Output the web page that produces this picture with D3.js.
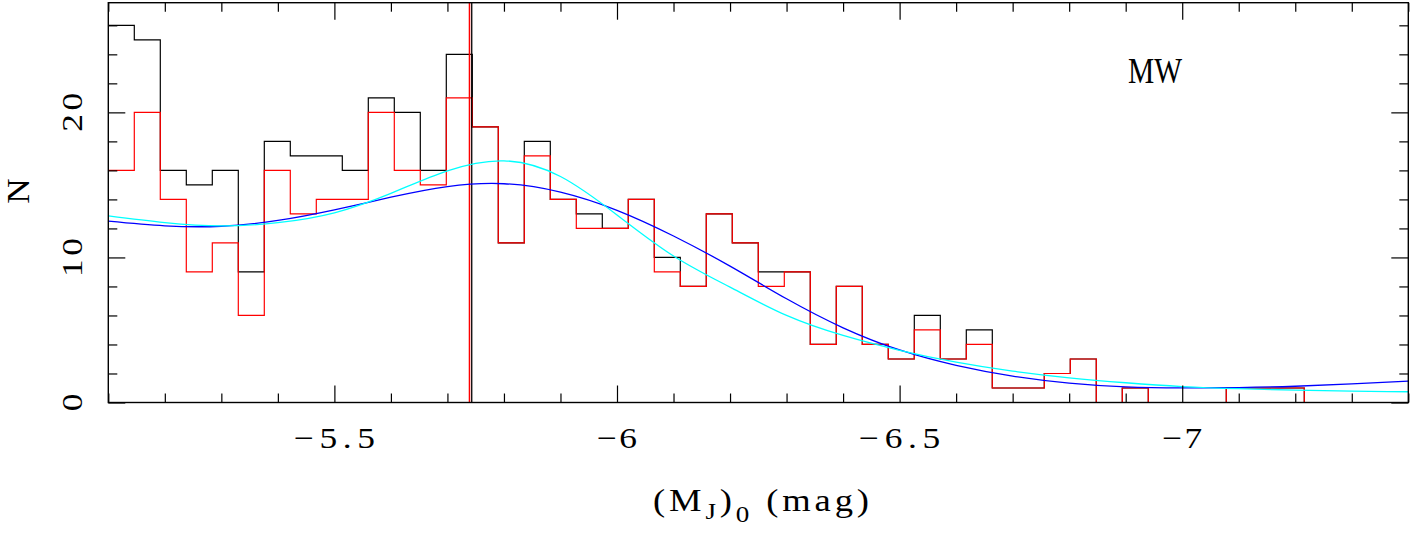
<!DOCTYPE html>
<html>
<head>
<meta charset="utf-8">
<script src="https://cdn.jsdelivr.net/npm/d3@7"></script>
<style>
  html, body { margin: 0; padding: 0; background: #fff; }
  svg { display: block; }
  text { font-family: "Liberation Serif", "DejaVu Serif", serif; fill: #000; }
</style>
</head>
<body>
<svg id="chart" width="1411" height="536"></svg>
<script>
// ---------------- data ----------------
const binStart = -5.1;
const binWidth = 0.046;
const countsAll = [26,25,16,15,16,9,18,17,17,16,21,20,16,24,19,11,18,14,13,12,14,10,8,13,11,9,9,4,8,4,3,6,3,5,1,1,2,3,0,1,0,0,0,1,1,1,0,0,0,0];
const countsSel = [16,20,14,9,11,6,16,13,14,14,20,16,15,21,19,11,17,14,12,12,14,9,8,13,11,8,9,4,8,4,3,5,3,4,1,1,2,3,0,1,0,0,0,1,1,1,0,0,0,0];
const fitMag  = [-5.10,-5.20,-5.30,-5.40,-5.50,-5.60,-5.70,-5.80,-5.90,-6.00,-6.10,-6.20,-6.30,-6.40,-6.50,-6.60,-6.70,-6.80,-6.90,-7.00,-7.10,-7.20,-7.30,-7.40];
const fitBlue = [12.50,12.18,12.15,12.55,13.28,14.15,14.88,15.08,14.50,13.25,11.48,9.40,7.15,5.15,3.62,2.56,1.82,1.34,1.08,1.01,1.03,1.12,1.28,1.48];
const fitCyan = [12.86,12.40,12.17,12.40,13.08,14.42,15.97,16.66,15.58,12.93,10.10,7.95,6.00,4.62,3.60,2.78,2.16,1.70,1.36,1.10,0.95,0.85,0.78,0.74];
const medianAll = -5.743;
const medianSel = -5.739;
const xMajorTicks = [-5.5, -6, -6.5, -7];
const xTickLabels = ["\u22125.5", "\u22126", "\u22126.5", "\u22127"];
const yMajorTicks = [0, 10, 20];
const yTickLabels = ["0", "10", "20"];
const panelLabel = "MW";

// ---------------- layout ----------------
const L = 108.3, R = 1408.3, T = 2.7, B = 402.5;
const x = d3.scaleLinear().domain([-5.1, -7.4]).range([L, R]);
const y = d3.scaleLinear().domain([0, 27.56]).range([B, T]);
const svg = d3.select("#chart");

const edges = d3.range(51).map(i => binStart - i * binWidth);

function histPoints(counts) {
  const pts = counts.map((c, i) => [edges[i], c]);
  pts.push([edges[50], counts[counts.length - 1]]);
  return pts;
}
const stepLine = d3.line().x(d => x(d[0])).y(d => y(d[1])).curve(d3.curveStepAfter);
const smoothLine = d3.line().x(d => x(d[0])).y(d => y(d[1])).curve(d3.curveNatural);

const plot = svg.append("g");
plot.append("defs").append("clipPath").attr("id", "clip")
  .append("rect").attr("x", L).attr("y", T).attr("width", R - L).attr("height", B - T);
const g = plot.append("g").attr("clip-path", "url(#clip)");

g.append("path").attr("d", stepLine(histPoints(countsAll)))
  .attr("fill", "none").attr("stroke", "#000").attr("stroke-width", 1.2);
g.append("path").attr("d", stepLine(histPoints(countsSel)))
  .attr("fill", "none").attr("stroke", "#ff0000").attr("stroke-width", 1.2);

g.append("line").attr("x1", x(medianAll)).attr("x2", x(medianAll)).attr("y1", T).attr("y2", B)
  .attr("stroke", "#000").attr("stroke-width", 1.3);
g.append("line").attr("x1", x(medianSel)).attr("x2", x(medianSel)).attr("y1", T).attr("y2", B)
  .attr("stroke", "#ff0000").attr("stroke-width", 1.5);

g.append("path").attr("d", smoothLine(fitMag.map((m, i) => [m, fitBlue[i]])))
  .attr("fill", "none").attr("stroke", "#0000ff").attr("stroke-width", 1.3);
g.append("path").attr("d", smoothLine(fitMag.map((m, i) => [m, fitCyan[i]])))
  .attr("fill", "none").attr("stroke", "#00ffff").attr("stroke-width", 1.3);

// ---------------- axes / frame ----------------
const xMinor = d3.range(-5.1, -7.41, -0.1).map(v => +v.toFixed(2)).filter(v => xMajorTicks.indexOf(v) < 0);
const yMinor = d3.range(0, 27.6, 2).filter(v => yMajorTicks.indexOf(v) < 0);

function addAxis(axisFn, scale, values, size, transform) {
  const a = svg.append("g").attr("transform", transform)
    .call(axisFn(scale).tickValues(values).tickSize(-size).tickFormat(""));
  a.select(".domain").remove();
  a.selectAll("line").attr("stroke", "#000").attr("stroke-width", 1.2);
}
addAxis(d3.axisBottom, x, xMajorTicks, 17, `translate(0,${B})`);
addAxis(d3.axisBottom, x, xMinor, 9, `translate(0,${B})`);
addAxis(d3.axisTop, x, xMajorTicks, 17, `translate(0,${T})`);
addAxis(d3.axisTop, x, xMinor, 9, `translate(0,${T})`);
addAxis(d3.axisLeft, y, yMajorTicks, 17, `translate(${L},0)`);
addAxis(d3.axisLeft, y, yMinor, 9, `translate(${L},0)`);
addAxis(d3.axisRight, y, yMajorTicks, 17, `translate(${R},0)`);
addAxis(d3.axisRight, y, yMinor, 9, `translate(${R},0)`);

svg.append("rect").attr("x", L).attr("y", T).attr("width", R - L).attr("height", B - T)
  .attr("fill", "none").attr("stroke", "#000").attr("stroke-width", 1.4);

// tick labels: slightly widened glyphs plus spacing (Hershey-like look)
const sx = 1.18;
svg.append("g").selectAll("text").data(xMajorTicks).join("text")
  .attr("transform", d => `translate(${x(d)},448) scale(${sx},1)`)
  .attr("text-anchor", "middle").attr("font-size", 30)
  .attr("textLength", (d, i) => (xTickLabels[i].length * 20.5 - 1) / sx)
  .attr("lengthAdjust", "spacing")
  .text((d, i) => xTickLabels[i]);

svg.append("g").selectAll("text").data(yMajorTicks).join("text")
  .attr("transform", d => `translate(82,${y(d)}) rotate(-90) scale(${sx},1)`)
  .attr("text-anchor", "middle").attr("font-size", 30)
  .attr("textLength", (d, i) => yTickLabels[i].length * 19.5 / sx)
  .attr("lengthAdjust", "spacing")
  .text((d, i) => yTickLabels[i]);

// axis titles
svg.append("text").attr("transform", "translate(29,191) rotate(-90) scale(1.1,1)")
  .attr("text-anchor", "middle").attr("font-size", 32).text("N");

const xt = svg.append("text").attr("transform", `translate(761,511) scale(${sx},1)`)
  .attr("text-anchor", "middle").attr("font-size", 31)
  .attr("textLength", 216 / sx).attr("lengthAdjust", "spacing");
xt.append("tspan").text("(M");
xt.append("tspan").attr("font-size", 23).attr("dy", 8).text("J");
xt.append("tspan").attr("dy", -8).text(")");
xt.append("tspan").attr("font-size", 23).attr("dy", 11).text("0");
xt.append("tspan").attr("dy", -11).text(" (mag)");

svg.append("text").attr("x", 1155).attr("y", 83).attr("text-anchor", "middle")
  .attr("font-size", 35).attr("textLength", 54).attr("lengthAdjust", "spacingAndGlyphs")
  .text(panelLabel);
</script>
</body>
</html>
